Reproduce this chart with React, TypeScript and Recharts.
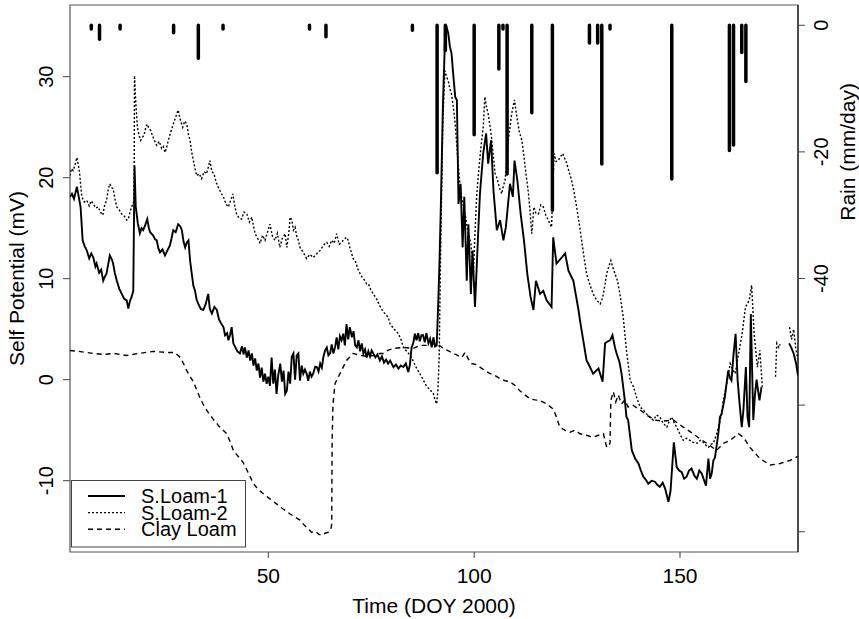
import React from "react";
import { ComposedChart, Line, XAxis, YAxis, ReferenceArea, Label } from "recharts";

const FONT = "'Liberation Sans', Arial, Helvetica, sans-serif";

// [day of year, self potential mV]; null = gap in record
const loam1: [number, number | null][] = [
  [1.8, 18.1], [2.3, 18.4], [2.8, 17.9], [3.5, 19.1], [4.0, 18.0], [4.4, 17.1], [4.9, 13.8], [5.4, 13.2],
  [5.9, 12.8], [6.5, 12.0], [7.0, 12.5], [7.5, 12.1], [8.0, 11.2], [8.3, 11.5], [8.9, 10.6], [9.4, 10.9],
  [9.9, 9.8], [10.3, 10.2], [10.7, 10.5], [11.1, 11.4], [11.5, 12.3], [12.0, 11.9], [12.3, 11.5], [12.7, 10.6],
  [13.2, 9.8], [13.8, 9.0], [14.4, 8.5], [15.0, 8.0], [15.6, 7.85], [16.0, 7.05], [16.4, 7.8], [16.8, 8.2],
  [17.2, 8.8], [17.5, 21.2], [17.8, 17.1], [18.3, 15.5], [18.8, 14.5], [19.2, 15.0], [19.6, 14.8], [20.1, 15.3],
  [20.6, 15.9], [21.0, 15.0], [21.3, 14.6], [22.0, 14.3], [22.5, 13.9], [22.9, 13.8], [23.3, 13.0], [23.7, 12.6],
  [24.3, 12.9], [24.9, 12.3], [25.5, 12.8], [26.1, 13.3], [26.5, 14.0], [26.9, 14.8], [27.5, 14.6], [28.1, 15.4],
  [28.6, 15.2], [29.0, 14.8], [29.4, 13.7], [29.8, 13.1], [30.2, 13.6], [30.6, 13.8], [31.0, 11.8], [31.4, 10.5],
  [31.8, 9.3], [32.2, 8.8], [32.6, 7.9], [33.0, 7.5], [33.6, 7.0], [34.2, 6.9], [34.8, 7.5], [35.4, 8.5],
  [35.8, 7.0], [36.3, 6.55], [36.9, 7.2], [37.5, 6.9], [38.0, 6.0], [38.5, 5.6], [39.1, 5.2], [39.5, 4.4],
  [40.0, 4.6], [40.3, 3.9], [40.7, 4.4], [41.1, 5.2], [41.5, 3.6], [42.0, 3.2], [42.5, 2.8], [43.1, 2.6],
  [43.6, 3.3], [44.0, 2.5], [44.3, 3.2], [44.8, 2.2], [45.2, 2.9], [45.6, 1.9], [46.0, 2.6], [46.4, 1.4],
  [46.8, 2.1], [47.2, 0.9], [47.6, 1.6], [48.0, 0.2], [48.4, 1.2], [48.8, -0.2], [49.2, 0.6], [49.6, -0.4],
  [50.0, 0.3], [50.4, -0.6], [50.8, 2.2], [51.2, -0.4], [51.6, 1.0], [52.0, -1.4], [52.4, 0.4], [52.9, 1.6],
  [53.3, -0.2], [53.7, 0.9], [54.1, -1.4], [54.5, -1.1], [54.9, 0.8], [55.3, -0.4], [55.7, 2.3], [56.1, 2.6],
  [56.5, 0.0], [56.9, 2.4], [57.3, 2.6], [57.7, -0.1], [58.1, 1.4], [58.5, 0.6], [58.9, 1.0], [59.3, 0.6],
  [59.7, -0.1], [60.1, 0.8], [60.5, 0.3], [60.9, 0.6], [61.4, 1.3], [61.8, 1.25], [62.2, 0.8], [62.6, 1.6],
  [63.0, 1.2], [63.4, 2.3], [63.8, 2.9], [64.2, 3.2], [64.6, 2.4], [65.0, 2.6], [65.4, 3.5], [65.8, 2.6],
  [66.2, 3.2], [66.6, 4.2], [67.0, 3.0], [67.4, 4.3], [67.8, 3.9], [68.2, 4.55], [68.6, 3.4], [69.0, 5.5],
  [69.4, 4.0], [69.8, 5.2], [70.3, 4.2], [70.7, 4.8], [71.1, 3.4], [71.5, 3.2], [71.9, 3.9], [72.3, 2.8],
  [72.7, 3.6], [73.1, 2.6], [73.5, 3.0], [73.9, 2.2], [74.3, 2.8], [74.7, 2.3], [75.1, 2.9], [75.5, 2.6],
  [76.0, 2.2], [76.5, 2.5], [77.1, 1.9], [77.6, 2.3], [78.1, 1.7], [78.6, 2.0], [79.1, 1.6], [79.6, 1.9],
  [80.4, 1.25], [81.0, 1.5], [81.6, 1.1], [82.2, 1.4], [82.8, 1.25], [83.4, 1.6], [84.0, 0.75], [84.4, 1.5],
  [84.8, 3.2], [85.2, 3.6], [85.6, 4.55], [86.0, 3.9], [86.4, 4.6], [86.8, 3.8], [87.2, 4.4], [87.6, 4.4],
  [88.0, 3.7], [88.4, 4.6], [88.9, 3.6], [89.3, 4.05], [89.7, 3.2], [90.1, 4.2], [90.5, 3.3], [90.9, 3.4],
  [91.3, 7.85], [91.6, 12.0], [91.9, 17.1], [92.4, 27.0], [92.9, 33.6], [93.2, 35.1], [93.7, 34.3], [94.1, 33.0],
  [94.5, 32.3], [94.9, 30.3], [95.4, 28.0], [95.8, 27.7], [96.2, 17.4], [96.7, 19.4], [97.2, 13.1], [97.6, 18.1],
  [98.2, 9.8], [98.6, 15.4], [99.2, 8.5], [99.6, 12.8], [100.2, 7.2], [100.9, 13.8], [101.4, 18.4], [102.2, 22.4],
  [102.9, 24.4], [103.4, 21.4], [104.1, 23.7], [104.7, 18.7], [105.5, 14.8], [106.3, 15.8], [107.1, 13.8], [107.7, 15.1],
  [108.7, 19.4], [109.4, 18.1], [109.8, 21.7], [110.5, 19.7], [111.3, 16.4], [112.1, 13.8], [112.9, 10.5], [113.7, 8.2],
  [114.4, 6.9], [115.0, 9.8], [116.0, 8.5], [116.8, 8.8], [117.6, 7.85], [118.8, 7.2], [119.2, 14.1], [120.0, 11.5],
  [121.3, 12.1], [122.1, 12.5], [122.9, 10.8], [124.1, 9.8], [125.3, 7.0], [125.7, 5.9], [126.5, 3.9], [127.3, 1.9],
  [127.7, 1.6], [128.9, 0.6], [130.2, 1.1], [131.2, -0.2], [131.8, 3.6], [132.5, 3.8], [133.0, 3.9], [133.6, 4.4],
  [134.2, 3.2], [134.6, 2.6], [135.3, 1.75], [135.8, 0.6], [136.6, -2.05], [137.0, -3.7], [137.4, -4.0], [138.3, -7.0],
  [139.1, -7.8], [139.9, -8.3], [140.5, -9.0], [141.1, -9.6], [141.7, -9.9], [142.3, -10.3], [143.1, -10.0], [143.9, -10.1],
  [144.5, -10.4], [145.1, -10.6], [145.8, -10.2], [146.4, -10.8], [147.2, -12.1], [147.7, -11.0], [148.5, -6.2], [149.2, -8.65],
  [149.8, -9.0], [150.4, -9.15], [151.0, -9.8], [151.6, -9.6], [152.2, -9.0], [152.8, -8.8], [153.5, -9.5], [154.1, -9.8],
  [154.7, -9.0], [155.3, -9.3], [155.8, -9.9], [156.3, -10.5], [156.9, -7.8], [157.3, -9.8], [157.7, -9.3], [158.1, -8.0],
  [158.5, -7.7], [159.3, -5.35], [159.7, -3.7], [160.1, -3.4], [160.9, -1.7], [161.7, 0.9], [162.1, 0.2], [162.5, -0.07],
  [163.0, 2.5], [163.5, 4.55], [164.0, -0.07], [164.5, -2.5], [165.0, -4.7], [165.4, -3.0], [166.0, 1.25], [166.4, -3.7],
  [166.8, -4.7], [167.2, 6.5], [167.8, -4.0], [168.2, -1.5], [168.6, 0.0], [169.0, -1.2], [169.3, -2.05], [169.8, -0.7],
  [169.9, null], [176.5, 3.6], [177.0, 3.2], [177.6, 2.6], [178.2, 1.6], [178.66, 0.4],
];

const loam2: [number, number | null][] = [
  [1.8, 20.2], [2.2, 20.9], [2.6, 20.7], [3.0, 21.2], [3.5, 22.0], [4.1, 20.7], [4.7, 18.1], [5.3, 17.6],
  [5.9, 17.75], [6.5, 17.2], [7.0, 17.7], [7.5, 17.4], [8.1, 17.0], [8.7, 17.1], [9.2, 16.6], [9.8, 16.3],
  [10.2, 17.2], [10.7, 17.75], [11.1, 18.8], [11.5, 19.4], [12.0, 19.0], [12.3, 18.9], [12.8, 17.8], [13.2, 17.1],
  [13.8, 16.8], [14.4, 16.4], [15.0, 16.2], [15.6, 15.8], [16.0, 15.9], [16.4, 16.6], [16.8, 17.1], [17.4, 17.75],
  [17.5, 30.1], [17.8, 27.5], [18.2, 25.0], [18.6, 24.2], [19.0, 23.7], [19.4, 24.0], [19.8, 24.2], [20.2, 24.9],
  [20.6, 25.3], [21.0, 24.9], [21.4, 24.7], [22.1, 23.9], [22.9, 23.2], [23.5, 23.6], [24.1, 22.9], [24.5, 23.1],
  [24.9, 22.5], [25.3, 23.0], [25.7, 23.7], [26.3, 24.5], [26.9, 25.3], [27.5, 26.0], [28.1, 26.7], [28.7, 25.6],
  [29.2, 25.0], [29.7, 25.6], [30.2, 25.3], [30.6, 24.3], [31.0, 23.7], [31.4, 22.5], [31.8, 21.7], [32.2, 20.9],
  [32.6, 20.2], [33.2, 20.4], [33.8, 19.9], [34.4, 20.6], [35.0, 20.4], [35.4, 21.0], [35.8, 21.7], [36.3, 20.6],
  [36.8, 20.4], [37.3, 19.6], [37.8, 19.1], [38.5, 18.5], [39.1, 18.1], [39.7, 17.4], [40.3, 17.1], [40.8, 17.7],
  [41.4, 18.4], [41.8, 17.3], [42.3, 16.4], [42.9, 16.0], [43.5, 15.9], [44.1, 16.6], [44.8, 16.4], [45.4, 15.6],
  [46.0, 16.1], [46.4, 15.2], [46.8, 14.45], [47.4, 14.0], [48.0, 13.5], [48.6, 14.3], [49.2, 13.8], [49.8, 14.6],
  [50.4, 15.4], [51.0, 14.2], [51.6, 13.8], [52.2, 14.5], [52.8, 13.1], [53.4, 14.0], [54.1, 14.45], [54.5, 13.1],
  [55.0, 14.6], [55.3, 16.1], [55.7, 15.8], [56.1, 14.8], [56.5, 15.1], [56.9, 14.2], [57.3, 13.8], [57.7, 13.1],
  [58.5, 12.6], [59.3, 12.0], [60.1, 12.4], [60.9, 12.1], [61.8, 12.5], [62.6, 12.8], [63.2, 13.2], [63.8, 13.5],
  [64.2, 13.6], [64.8, 13.2], [65.4, 13.8], [66.0, 13.5], [66.6, 14.45], [67.2, 13.4], [67.8, 13.6], [68.4, 13.9],
  [69.0, 14.1], [69.4, 13.8], [69.8, 13.1], [70.6, 12.0], [71.1, 11.8], [71.7, 11.0], [72.3, 10.5], [72.7, 10.2],
  [73.3, 9.9], [73.9, 9.5], [74.3, 9.5], [74.9, 8.9], [75.5, 8.5], [76.3, 8.0], [77.1, 7.3], [77.8, 6.8],
  [78.4, 6.5], [79.1, 6.2], [79.6, 5.5], [80.6, 5.0], [81.6, 4.55], [82.2, 4.0], [82.8, 3.2], [83.6, 2.8],
  [84.3, 2.5], [84.8, 2.2], [85.8, 1.3], [86.8, 0.6], [87.6, 0.0], [88.5, -0.7], [89.3, -1.0], [90.1, -1.4],
  [90.5, -2.0], [90.9, -2.4], [91.2, -1.0], [91.5, 2.2], [91.9, 13.8], [92.4, 25.7], [92.9, 30.6], [93.3, 30.0],
  [93.7, 29.6], [94.1, 28.8], [94.5, 28.3], [95.0, 26.8], [95.4, 25.3], [96.0, 22.0], [96.6, 19.1], [97.0, 18.0],
  [97.4, 17.1], [97.9, 16.2], [98.3, 15.1], [98.7, 14.3], [99.2, 13.5], [99.8, 10.5], [100.2, 14.5], [100.6, 18.1],
  [101.0, 20.2], [101.4, 22.0], [101.8, 23.6], [102.2, 25.0], [102.6, 28.0], [103.0, 27.0], [103.4, 26.3], [103.9, 25.0],
  [104.3, 23.7], [104.7, 22.0], [105.1, 20.4], [105.5, 20.0], [105.9, 19.4], [106.3, 18.8], [106.7, 18.4], [107.1, 19.2],
  [107.5, 19.7], [107.9, 21.5], [108.3, 23.7], [108.7, 25.0], [109.1, 26.3], [109.8, 27.7], [110.2, 26.5], [110.5, 25.7],
  [111.0, 24.5], [111.6, 23.7], [112.0, 22.4], [112.4, 21.0], [112.8, 19.7], [113.2, 18.4], [113.6, 16.5], [114.0, 14.45],
  [114.5, 17.1], [115.0, 16.5], [115.6, 16.4], [116.2, 17.3], [116.8, 17.1], [117.4, 16.3], [118.0, 15.8], [118.8, 15.1],
  [119.4, 22.4], [119.9, 21.6], [120.4, 21.7], [121.0, 22.1], [121.5, 22.4], [122.0, 21.9], [122.5, 21.4], [123.1, 20.5],
  [123.7, 19.7], [124.3, 18.5], [124.9, 17.1], [125.5, 15.5], [126.1, 13.8], [126.7, 12.1], [127.3, 10.5], [128.1, 9.4],
  [128.9, 8.5], [129.7, 7.9], [130.6, 7.5], [131.0, 7.9], [131.4, 8.5], [131.8, 9.5], [132.2, 10.5], [132.7, 11.2],
  [133.2, 11.8], [133.7, 11.1], [134.2, 10.5], [134.8, 9.8], [135.4, 8.5], [136.2, 6.2], [137.0, 2.9], [137.9, -0.07],
  [138.7, -0.7], [139.5, -1.8], [140.3, -2.7], [141.1, -3.0], [141.9, -3.4], [142.7, -3.7], [143.5, -4.0], [144.3, -3.5],
  [145.1, -3.7], [145.9, -4.3], [146.8, -4.7], [147.4, -4.1], [148.0, -3.7], [148.6, -4.3], [149.2, -4.7], [150.0, -5.4],
  [150.8, -6.0], [151.6, -5.8], [152.4, -6.0], [153.2, -6.2], [154.1, -6.3], [154.9, -6.0], [155.7, -6.2], [156.3, -6.5],
  [156.9, -6.7], [157.5, -6.4], [158.1, -6.3], [158.9, -5.35], [159.5, -4.5], [160.1, -3.4], [160.5, -2.05], [161.3, -0.5],
  [162.2, 1.6], [162.8, 1.0], [163.4, 0.6], [164.2, 2.5], [165.1, 4.55], [165.9, 7.2], [166.8, 7.85], [167.4, 9.35],
  [168.0, 4.55], [168.8, 1.25], [169.4, 2.9], [170.0, -0.7], [170.1, null], [173.2, 0.3], [173.5, 3.6], [174.0, 3.2],
  [174.3, 3.5], [174.4, null], [176.6, 5.2], [177.1, 4.0], [177.6, 5.0], [178.1, 3.2], [178.6, 2.0],
];

const clayLoam: [number, number | null][] = [
  [1.8, 2.9], [4.0, 2.8], [7.5, 2.6], [10.0, 2.5], [12.5, 2.6], [15.6, 2.4], [18.5, 2.6], [22.1, 2.8],
  [25.0, 2.7], [27.3, 2.7], [28.6, 2.2], [29.4, 1.6], [30.2, 0.9], [31.0, 0.3], [31.8, -0.2], [33.0, -1.4],
  [33.4, -1.8], [34.5, -2.7], [35.5, -3.3], [36.6, -3.9], [38.0, -4.6], [39.9, -5.35], [40.8, -6.2], [41.5, -7.0],
  [42.7, -7.6], [43.9, -8.2], [45.1, -9.2], [46.4, -10.3], [47.6, -10.9], [48.8, -11.3], [50.4, -11.8], [52.0, -12.3],
  [53.6, -12.8], [55.3, -13.3], [56.5, -13.6], [57.7, -13.9], [58.5, -14.3], [59.5, -14.7], [60.5, -15.1], [61.5, -15.0],
  [62.2, -15.3], [63.0, -15.4], [63.8, -15.2], [64.6, -15.1], [65.2, -14.8], [65.4, -14.3], [65.5, -6.0], [65.7, -2.5],
  [66.2, -0.4], [67.4, 0.6], [69.0, 1.9], [70.6, 2.6], [71.5, 2.5], [72.7, 2.4], [74.0, 2.3], [75.5, 2.4],
  [77.0, 2.6], [77.9, 2.6], [79.0, 2.9], [80.4, 3.1], [82.8, 3.2], [85.2, 3.1], [86.8, 3.4], [88.5, 3.4],
  [90.9, 3.6], [92.5, 3.1], [94.0, 2.8], [94.9, 2.6], [96.0, 2.4], [97.0, 2.2], [97.8, 2.7], [98.5, 2.1],
  [99.4, 1.6], [100.5, 1.5], [101.4, 1.25], [102.6, 0.9], [103.9, 0.6], [105.1, 0.4], [106.3, 0.1], [107.5, -0.1],
  [108.7, -0.2], [110.0, -0.6], [111.1, -1.1], [112.3, -1.5], [113.6, -1.9], [114.8, -2.0], [116.0, -2.05], [117.6, -2.4],
  [119.2, -2.9], [120.0, -3.7], [120.8, -4.7], [122.0, -5.0], [123.3, -5.2], [124.5, -5.0], [125.7, -5.35], [127.3, -5.5],
  [128.9, -5.7], [130.2, -5.5], [131.4, -5.35], [132.2, -6.7], [133.0, -6.3], [133.2, -2.05], [133.8, -1.2], [134.4, -2.2],
  [135.0, -1.5], [135.8, -2.4], [136.6, -2.0], [137.4, -2.7], [138.5, -2.5], [140.3, -3.0], [142.3, -3.6], [143.9, -4.0],
  [146.0, -4.1], [148.4, -4.0], [150.8, -4.7], [153.2, -5.35], [155.0, -5.9], [156.5, -6.3], [158.9, -7.0], [160.5, -6.3],
  [162.2, -6.0], [164.2, -5.35], [165.4, -5.7], [167.0, -6.7], [169.4, -7.8], [171.9, -8.45], [174.3, -8.3], [176.7, -8.0],
  [178.6, -7.6],
];

// daily rain (plotted downward from 0, mm/day)
const rainDays = [7, 9, 14, 27, 33, 39, 60, 64, 85, 91, 93, 100, 106, 107, 108, 114, 119, 128, 130, 131, 133, 148, 162, 163, 165, 166];
const rainMm = [-0.6, -2.2, -0.6, -1.2, -5.2, -0.6, -0.6, -1.8, -0.8, -23.3, -4.0, -17.3, -6.9, -0.6, -23.5, -13.8, -29.2, -2.8, -2.8, -21.9, -0.6, -24.3, -19.8, -18.9, -4.3, -8.9];

const spTicks = [-10, 0, 10, 20, 30];
const rainTicks = [0, -20, -40, -60, -80];
const rainLabelled = [0, -20, -40];
const dayTicks = [50, 100, 150];

const X_DOMAIN: [number, number] = [1.83, 178.66];
const SP_DOMAIN: [number, number] = [-17.06, 37.1];
const RAIN_DOMAIN: [number, number] = [-83.2, 3.2];

const toRows = (pts: [number, number | null][]) => pts.map(([d, v]) => ({ d, v }));
const rainRows = rainDays.flatMap((d, i) => [
  { d, r: 0 },
  { d, r: rainMm[i] },
  { d, r: null },
]);

const series = [
  { name: "S.Loam-1", rows: toRows(loam1), dash: undefined, width: 1.9 },
  { name: "S.Loam-2", rows: toRows(loam2), dash: "2 2", width: 1.4 },
  { name: "Clay Loam", rows: toRows(clayLoam), dash: "5 4", width: 1.4 },
];

const LeftTick = ({ x, y, payload }: any) => (
  <text x={x - 8} y={y} transform={`rotate(-90, ${x - 8}, ${y})`} textAnchor="middle" fontSize={20} fontFamily={FONT} fill="#000">
    {payload.value}
  </text>
);

const RightTick = ({ x, y, payload }: any) =>
  rainLabelled.includes(payload.value) ? (
    <text x={x + 21} y={y} transform={`rotate(-90, ${x + 21}, ${y})`} textAnchor="middle" fontSize={20} fontFamily={FONT} fill="#000">
      {payload.value}
    </text>
  ) : (
    <g />
  );

const BottomTick = ({ x, y, payload }: any) => (
  <text x={x} y={y + 23} textAnchor="middle" fontSize={21} fontFamily={FONT} fill="#000">
    {payload.value}
  </text>
);

function LegendBox() {
  return (
    <svg width={176} height={68} style={{ position: "absolute", left: 71, top: 480 }}>
      <rect x={0.5} y={0.5} width={174} height={66.5} fill="#fff" stroke="#444" />
      {series.map((s, i) => (
        <g key={s.name}>
          <line x1={17} x2={54} y1={16 + i * 16.6} y2={16 + i * 16.6} stroke="#000" strokeWidth={s.width} strokeDasharray={s.dash} />
          <text x={70} y={23 + i * 16.6} fontSize={20} fontFamily={FONT} fill="#000">
            {s.name}
          </text>
        </g>
      ))}
    </svg>
  );
}

export default function App() {
  return (
    <div style={{ position: "absolute", left: 0, top: 0, width: 859, height: 619, background: "#fff" }}>
      <ComposedChart width={859} height={619} margin={{ top: 5, right: 0, bottom: 0, left: 0 }}>
        <XAxis
          xAxisId="t"
          dataKey="d"
          type="number"
          domain={X_DOMAIN}
          ticks={dayTicks}
          allowDataOverflow
          height={67}
          axisLine={false}
          tickLine={{ stroke: "#444" }}
          tickSize={6}
          tick={<BottomTick />}
        >
          <Label
            content={({ viewBox }: any) => (
              <text x={viewBox.x + viewBox.width / 2} y={viewBox.y + 61} textAnchor="middle" fontSize={21} fontFamily={FONT} fill="#000">
                Time (DOY 2000)
              </text>
            )}
          />
        </XAxis>
        <YAxis
          yAxisId="sp"
          type="number"
          domain={SP_DOMAIN}
          ticks={spTicks}
          allowDataOverflow
          width={70}
          axisLine={false}
          tickLine={{ stroke: "#444" }}
          tickSize={7}
          tick={<LeftTick />}
        >
          <Label
            content={({ viewBox }: any) => {
              const cx = 24;
              const cy = viewBox.y + viewBox.height / 2;
              return (
                <text x={cx} y={cy} transform={`rotate(-90, ${cx}, ${cy})`} textAnchor="middle" fontSize={21} fontFamily={FONT} fill="#000">
                  Self Potential (mV)
                </text>
              );
            }}
          />
        </YAxis>
        <YAxis
          yAxisId="rain"
          orientation="right"
          type="number"
          domain={RAIN_DOMAIN}
          ticks={rainTicks}
          allowDataOverflow
          width={61}
          axisLine={{ stroke: "#000" }}
          tickLine={{ stroke: "#444" }}
          tickSize={7}
          tick={<RightTick />}
        >
          <Label
            content={({ viewBox }: any) => {
              const cx = viewBox.x + 57;
              const cy = viewBox.y + (viewBox.height * (RAIN_DOMAIN[1] + 20)) / (RAIN_DOMAIN[1] - RAIN_DOMAIN[0]);
              return (
                <text x={cx} y={cy} transform={`rotate(-90, ${cx}, ${cy})`} textAnchor="middle" fontSize={21} fontFamily={FONT} fill="#000">
                  Rain (mm/day)
                </text>
              );
            }}
          />
        </YAxis>

        <ReferenceArea
          xAxisId="t"
          yAxisId="sp"
          x1={X_DOMAIN[0]}
          x2={X_DOMAIN[1]}
          y1={SP_DOMAIN[0]}
          y2={SP_DOMAIN[1]}
          fill="none"
          fillOpacity={0}
          stroke="#555"
          strokeWidth={1.2}
        />

        <Line
          xAxisId="t"
          yAxisId="rain"
          data={rainRows}
          dataKey="r"
          type="linear"
          stroke="#000"
          strokeWidth={3.5}
          strokeLinecap="round"
          dot={false}
          activeDot={false}
          isAnimationActive={false}
        />

        {series.map((s) => (
          <Line
            key={s.name}
            xAxisId="t"
            yAxisId="sp"
            data={s.rows}
            dataKey="v"
            name={s.name}
            type="linear"
            stroke="#000"
            strokeWidth={s.width}
            strokeDasharray={s.dash}
            dot={false}
            activeDot={false}
            isAnimationActive={false}
          />
        ))}
      </ComposedChart>
      <LegendBox />
    </div>
  );
}
